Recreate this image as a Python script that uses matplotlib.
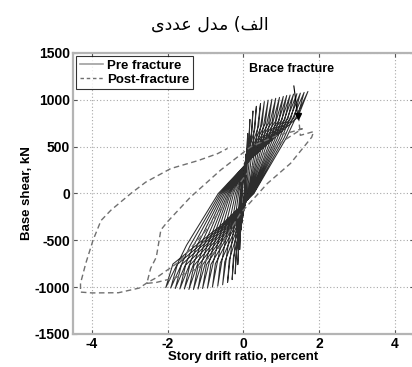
import matplotlib
matplotlib.use("Agg")
import matplotlib.pyplot as plt
from matplotlib.lines import Line2D

# Cyclic peaks of the pre-fracture response (drift %, base shear kN)
neg_drift = [-0.06, -0.10, -0.15, -0.22, -0.30, -0.42, -0.55, -0.68, -0.82, -0.95,
             -1.08, -1.20, -1.32, -1.44, -1.56, -1.68, -1.80, -1.92, -2.05]
neg_shear = [-380, -600, -760, -860, -920, -950, -975, -990, -1000, -1010,
             -1015, -1020, -1025, -1025, -1020, -1020, -1015, -1010, -1005]
pos_drift = [0.06, 0.11, 0.17, 0.25, 0.34, 0.45, 0.55, 0.65, 0.75, 0.85,
             0.95, 1.05, 1.14, 1.23, 1.32, 1.41, 1.50, 1.60, 1.70]
pos_shear = [420, 640, 790, 880, 930, 960, 980, 995, 1005, 1015,
             1025, 1035, 1045, 1050, 1060, 1065, 1070, 1078, 1088]

# Brace fracture point
frac_drift = 1.45
frac_shear = 830

# Post-fracture response
post_drift = [1.45, 1.50, 1.68, 1.85, 1.80, 1.50, 1.24, 0.63, -0.08, -0.60,
              -1.20, -1.80, -2.30, -2.55, -2.45, -2.30, -2.18, -2.00, -1.40, -0.60,
              0.20, 0.90, 1.30, 1.55, 1.20, 0.40, -0.30, -1.00, -1.70, -2.30,
              -2.53, -2.75, -3.30, -4.00, -4.30, -4.30, -4.16, -3.97, -3.76, -3.50,
              -2.97, -2.58, -1.92, -1.20, -0.68, -0.42]
post_shear = [830, 620, 640, 660, 600, 450, 320, 106, -213, -560,
              -800, -900, -950, -960, -800, -680, -390, -300, -40, 250,
              500, 620, 660, 690, 600, 380, 0, -400, -730, -900,
              -950, -1010, -1060, -1062, -1053, -960, -745, -500, -290, -180,
              0, 120, 265, 350, 425, 480]

x_ticks = [-4, -2, 0, 2, 4]
y_ticks = [-1500, -1000, -500, 0, 500, 1000, 1500]

# Branch shape between successive peaks: position along the drift span,
# and weights on the starting / ending peak shear
SHAPE_FX = [0.0, 0.05, 0.38, 0.62, 0.85, 1.0]
SHAPE_FY_START = [1.0, 0.75, 0.35, 0.0, 0.0, 0.0]
SHAPE_FY_END = [0.0, 0.0, 0.0, 0.0, 0.55, 1.0]


def branch(p0, p1):
    xs, ys = [], []
    for fx, fa, fb in zip(SHAPE_FX, SHAPE_FY_START, SHAPE_FY_END):
        xs.append(p0[0] + fx * (p1[0] - p0[0]))
        ys.append(fa * p0[1] + fb * p1[1])
    return xs, ys


def hysteresis_path():
    xs, ys = [0.0], [0.0]
    cur = (0.0, 0.0)
    for i in range(len(neg_drift)):
        neg = (neg_drift[i], neg_shear[i])
        pos = (pos_drift[i], pos_shear[i])
        for a, b in ((cur, neg), (neg, pos)):
            bx, by = branch(a, b)
            xs += bx[1:]
            ys += by[1:]
        cur = pos
    xs.append(frac_drift)
    ys.append(frac_shear)
    return xs, ys


plt.rcParams["font.family"] = ["Liberation Sans", "DejaVu Sans"]

fig = plt.figure(figsize=(4.12, 3.67), dpi=100)
ax = fig.add_axes([0.177, 0.090, 0.828, 0.766])

hx, hy = hysteresis_path()
ax.plot(hx, hy, color="#161616", lw=0.75, alpha=0.9, zorder=3)
ax.plot(post_drift, post_shear, color="#707070", lw=1.0,
        dashes=(4, 2.5), zorder=4)
ax.plot([frac_drift], [frac_shear], marker="v", ms=4, color="black", zorder=5)

ax.set_xlim(-4.5, 4.5)
ax.set_ylim(-1500, 1500)
ax.set_xticks(x_ticks)
ax.set_yticks(y_ticks)
ax.set_xticklabels([str(t) for t in x_ticks], fontsize=10, fontweight="bold")
ax.set_yticklabels([str(t) for t in y_ticks], fontsize=10, fontweight="bold")
ax.tick_params(direction="in", length=3, width=0.8, color="#555555",
               top=True, right=True, pad=2)
ax.grid(True, color="#a8a8a8", lw=0.8, linestyle=(0, (1, 2)))
for s in ax.spines.values():
    s.set_color("#b4b4b4")
    s.set_linewidth(1.6)

ax.set_xlabel("Story drift ratio, percent", fontsize=9.5, fontweight="bold",
              labelpad=0)
ax.set_ylabel("Base shear, kN", fontsize=9.5, fontweight="bold", labelpad=1)

handles = [
    Line2D([], [], color="#a0a0a0", lw=1.2),
    Line2D([], [], color="#707070", lw=1.0, dashes=(2.5, 2)),
]
leg = ax.legend(handles, ["Pre fracture", "Post-fracture"], loc="upper left",
                bbox_to_anchor=(0.0, 1.0),
                prop={"weight": "bold", "size": 9.5}, frameon=True,
                fancybox=False, edgecolor="black", borderpad=0.25,
                handlelength=1.8, handletextpad=0.3, labelspacing=0.15,
                borderaxespad=0.25)
leg.get_frame().set_linewidth(0.8)

ax.annotate("Brace fracture", xy=(1.42, 862), xytext=(1.27, 1330),
            ha="center", va="center", fontsize=9, fontweight="bold",
            arrowprops=dict(arrowstyle="-", color="black", lw=0.8,
                            shrinkA=6, shrinkB=0), zorder=6)

# Caption: "الف) مدل عددی" written with contextual presentation forms
caption = "\uFEEF\uFEA9\uFEAA\uFECB \uFEDD\uFEAA\uFEE3 (\uFED2\uFEDF\uFE8D"
fig.text(0.51, 0.932, caption, ha="center", va="center", fontsize=12.5,
         family=["DejaVu Sans"])

fig.savefig("out.png", dpi=100)
